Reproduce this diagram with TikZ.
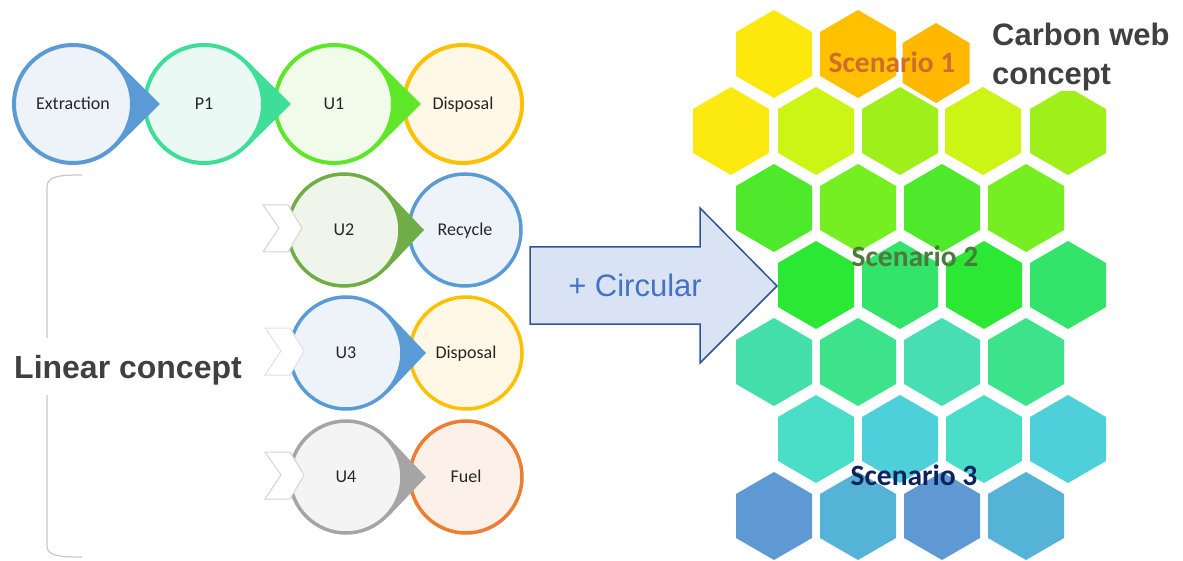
\documentclass[tikz,border=0pt]{standalone}
\usepackage{fontspec}
\setmainfont{Carlito}
\newfontfamily\arialf{Liberation Sans}
\usetikzlibrary{calc}
\definecolor{lbltxt}{HTML}{262626}
\definecolor{dgray}{HTML}{404040}
\definecolor{cBlue}{HTML}{5B9BD5}\definecolor{fBlue}{HTML}{EEF3FA}
\definecolor{cTeal}{HTML}{3EDE98}\definecolor{fTeal}{HTML}{EAF9F3}
\definecolor{cLime}{HTML}{5EE629}\definecolor{fLime}{HTML}{F0FBEA}
\definecolor{cYel}{HTML}{FFC000}\definecolor{fYel}{HTML}{FFF8E6}
\definecolor{cGrn}{HTML}{70AD47}\definecolor{fGrn}{HTML}{EFF5EA}
\definecolor{cGry}{HTML}{A5A5A5}\definecolor{fGry}{HTML}{F4F4F4}
\definecolor{cOra}{HTML}{ED7D31}\definecolor{fOra}{HTML}{FDF0E9}
\definecolor{chevgray}{HTML}{D4D4D4}
\definecolor{brkgray}{HTML}{C8C8C8}
\definecolor{arrfill}{HTML}{DAE3F3}\definecolor{arrdraw}{HTML}{2F5597}
\definecolor{arrtxt}{HTML}{4472C4}
\definecolor{scA}{HTML}{D06C2C}\definecolor{scB}{HTML}{4B7A3B}\definecolor{scC}{HTML}{0E2260}
\definecolor{h1a}{HTML}{FCE80C}\definecolor{h1b}{HTML}{FFC000}\definecolor{h1c}{HTML}{FFB800}
\definecolor{h2a}{HTML}{FBE910}\definecolor{h2b}{HTML}{CCF414}\definecolor{h2c}{HTML}{9FF01A}
\definecolor{h3a}{HTML}{4DE92A}\definecolor{h3b}{HTML}{76EF22}
\definecolor{h4a}{HTML}{2BE834}\definecolor{h4b}{HTML}{33E36A}
\definecolor{h5a}{HTML}{44DEAA}\definecolor{h5b}{HTML}{3CE38A}\definecolor{h5c}{HTML}{48DEB4}
\definecolor{h6a}{HTML}{4ADDC8}\definecolor{h6b}{HTML}{4ED0DA}
\definecolor{h7a}{HTML}{5E99D4}\definecolor{h7b}{HTML}{56B3D8}
\newcommand\hexcell[3]{\fill[#3] (#1,#2) ++(0,-44) -- ++(38,22) -- ++(0,44) -- ++(-38,22) -- ++(-38,-22) -- ++(0,-44) -- cycle;}
\begin{document}
\begin{tikzpicture}[x=1pt,y=-1pt,
  bub/.style 2 args={circle, draw=#1, fill=#2, inner sep=0pt, text=lbltxt,
     font=\fontsize{18}{20}\selectfont, text height=12.5pt, text depth=2pt},
  bigbub/.style={line width=4pt, minimum size=118pt},
  smallbub/.style={line width=3.5pt, minimum size=112pt},
  chev/.style={fill=white, draw=chevgray, line width=1pt, line join=miter},
  brk/.style={draw=brkgray, line width=1.2pt},
  bigtxt/.style={inner sep=0pt, text=dgray, font=\arialf\bfseries\fontsize{31}{36}\selectfont},
  sctxt/.style={inner sep=0pt, anchor=base, font=\bfseries\fontsize{29.5}{34}\selectfont}
]
\useasboundingbox (0,0) rectangle (1183,561);

% ---------- top row (right to left) ----------
\coordinate (pdis1) at (463,104);
\node[bub={cYel}{fYel}, bigbub] (dis1) at (pdis1) {Disposal};
\coordinate (pu1) at (334,104);
\fill[cLime] ($(pu1)+(87,0)$) -- ($(pu1)+(46:61)$) -- (pu1) -- ($(pu1)+(-46:61)$) -- cycle;
\node[bub={cLime}{fLime}, bigbub] (u1) at (pu1) {U1};
\coordinate (pp1) at (204,104);
\fill[cTeal] ($(pp1)+(87,0)$) -- ($(pp1)+(46:61)$) -- (pp1) -- ($(pp1)+(-46:61)$) -- cycle;
\node[bub={cTeal}{fTeal}, bigbub] (p1) at (pp1) {P1};
\coordinate (pext) at (73,104);
\fill[cBlue] ($(pext)+(87,0)$) -- ($(pext)+(46:61)$) -- (pext) -- ($(pext)+(-46:61)$) -- cycle;
\node[bub={cBlue}{fBlue}, bigbub] (ext) at (pext) {Extraction};

% ---------- row U2 ----------
\coordinate (prec) at (465,230);
\node[bub={cBlue}{fBlue}, smallbub] (rec) at (prec) {Recycle};
\coordinate (pu2) at (344,230);
\fill[cGrn] ($(pu2)+(80,0)$) -- ($(pu2)+(43:58)$) -- (pu2) -- ($(pu2)+(-43:58)$) -- cycle;
\node[bub={cGrn}{fGrn}, smallbub] (u2) at (pu2) {U2};
\draw[chev] ($(pu2)+(-81,-25)$) -- ($(pu2)+(-56,-25)$) -- ($(pu2)+(-42,-2)$) -- ($(pu2)+(-56,22)$) -- ($(pu2)+(-81,22)$) -- ($(pu2)+(-65,-2)$) -- cycle;

% ---------- row U3 ----------
\coordinate (pdis2) at (466,353);
\node[bub={cYel}{fYel}, smallbub] (dis2) at (pdis2) {Disposal};
\coordinate (pu3) at (346,353);
\fill[cBlue] ($(pu3)+(80,0)$) -- ($(pu3)+(43:58)$) -- (pu3) -- ($(pu3)+(-43:58)$) -- cycle;
\node[bub={cBlue}{fBlue}, smallbub] (u3) at (pu3) {U3};
\draw[chev, draw=chevgray!70] ($(pu3)+(-81,-25)$) -- ($(pu3)+(-56,-25)$) -- ($(pu3)+(-42,-2)$) -- ($(pu3)+(-56,22)$) -- ($(pu3)+(-81,22)$) -- ($(pu3)+(-65,-2)$) -- cycle;

% ---------- row U4 ----------
\coordinate (pfuel) at (466,477);
\node[bub={cOra}{fOra}, smallbub] (fuel) at (pfuel) {Fuel};
\coordinate (pu4) at (346,477);
\fill[cGry] ($(pu4)+(80,0)$) -- ($(pu4)+(43:58)$) -- (pu4) -- ($(pu4)+(-43:58)$) -- cycle;
\node[bub={cGry}{fGry}, smallbub] (u4) at (pu4) {U4};
\draw[chev] ($(pu4)+(-81,-25)$) -- ($(pu4)+(-56,-25)$) -- ($(pu4)+(-42,-2)$) -- ($(pu4)+(-56,22)$) -- ($(pu4)+(-81,22)$) -- ($(pu4)+(-65,-2)$) -- cycle;

% ---------- bracket and label ----------
\draw[brk] (82,175) .. controls (60,175) and (47,176) .. (47,187) -- (47,338);
\draw[brk] (47,395) -- (47,546) .. controls (47,556) and (60,557) .. (82,557);
\node[bigtxt, font=\arialf\bfseries\fontsize{32}{36}\selectfont, anchor=base west] (lin) at (14,378) {Linear concept};

% ---------- big arrow ----------
\filldraw[fill=arrfill, draw=arrdraw, line width=1.5pt, line join=miter]
  (530,247) -- (700,247) -- (700,208) -- (777,286) -- (700,363) -- (700,324) -- (530,324) -- cycle;
\node[inner sep=0pt, anchor=base, text=arrtxt, font=\arialf\fontsize{31}{36}\selectfont] (circ) at (635,297) {+ Circular};

% ---------- hexagons ----------
\hexcell{774}{54}{h1a}\hexcell{858}{54}{h1b}
\fill[h1c] (936,63) ++(0,-40) -- ++(33.5,20) -- ++(0,40) -- ++(-33.5,20) -- ++(-33.5,-20) -- ++(0,-40) -- cycle;
\hexcell{731}{131}{h2a}\hexcell{816}{131}{h2b}\hexcell{900}{131}{h2c}\hexcell{983}{131}{h2b}\hexcell{1068}{131}{h2c}
\hexcell{774}{208}{h3a}\hexcell{858}{208}{h3b}\hexcell{942}{208}{h3a}\hexcell{1026}{208}{h3b}
\hexcell{816}{285}{h4a}\hexcell{900}{285}{h4b}\hexcell{984}{285}{h4a}\hexcell{1068}{285}{h4b}
\hexcell{774}{362}{h5a}\hexcell{858}{362}{h5b}\hexcell{942}{362}{h5c}\hexcell{1026}{362}{h5b}
\hexcell{816}{439}{h6a}\hexcell{900}{439}{h6b}\hexcell{984}{439}{h6a}\hexcell{1068}{439}{h6b}
\hexcell{774}{516}{h7a}\hexcell{858}{516}{h7b}\hexcell{942}{516}{h7a}\hexcell{1026}{516}{h7b}

% white backing behind the title
\fill[white] (988,0) rectangle (1183,91);

% ---------- texts ----------
\node[bigtxt, anchor=base west] (cw1) at (992,46) {Carbon web};
\node[bigtxt, anchor=base west] (cw2) at (992,85) {concept};
\node[sctxt, text=scA] (sc1) at (892,73) {Scenario 1};
\node[sctxt, text=scB] (sc2) at (915,267) {Scenario 2};
\node[sctxt, text=scC] (sc3) at (914,485) {Scenario 3};
\end{tikzpicture}
\end{document}
